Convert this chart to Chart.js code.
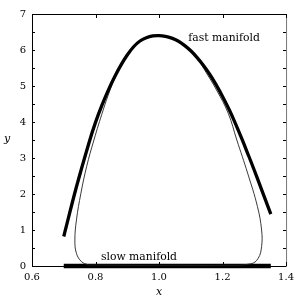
<!DOCTYPE html>
<html>
<head>
<meta charset="utf-8">
<script src="https://cdn.jsdelivr.net/npm/chart.js@4.4.1/dist/chart.umd.min.js"></script>
<style>
  html, body { margin: 0; padding: 0; background: #fff; }
</style>
</head>
<body>
<canvas id="grafica" width="299" height="300"></canvas>
<script>
// fast manifold (thick curve)
const fastX = [0.700, 0.740, 0.780, 0.800, 0.820, 0.840, 0.860, 0.880, 0.900, 0.920, 0.940, 0.960, 0.980, 1.000,
               1.020, 1.040, 1.060, 1.080, 1.100, 1.120, 1.140, 1.160, 1.180, 1.200, 1.220, 1.240, 1.260, 1.280, 1.300, 1.320, 1.352];
const fastY = [0.82, 2.20, 3.44, 3.99, 4.46, 4.88, 5.25, 5.58, 5.86, 6.09, 6.25, 6.34, 6.39, 6.40,
               6.38, 6.33, 6.25, 6.13, 5.98, 5.79, 5.57, 5.32, 5.03, 4.71, 4.36, 3.97, 3.55, 3.11, 2.66, 2.19, 1.44];

// orbit (thin closed curve)
const orbitX = [0.777, 0.900, 1.050, 1.200, 1.289, 1.312, 1.323, 1.323, 1.310, 1.279, 1.245, 1.218, 1.181, 1.148, 1.119, 1.079, 1.040, 1.000,
                0.961, 0.941, 0.921, 0.901, 0.881, 0.862, 0.845, 0.824, 0.795, 0.772, 0.754, 0.740, 0.735, 0.740, 0.756, 0.777];
const orbitY = [0.03, 0.02, 0.02, 0.02, 0.06, 0.21, 0.54, 1.00, 1.65, 2.58, 3.50, 4.24, 4.89, 5.38, 5.78, 6.12, 6.32, 6.38,
                6.33, 6.24, 6.08, 5.85, 5.57, 5.24, 4.87, 4.33, 3.50, 2.76, 2.02, 1.28, 0.72, 0.35, 0.12, 0.03];

// slow manifold (thick line on y = 0)
const slowX = [0.700, 1.352];
const slowY = [0, 0];

const xTicks = [0.6, 0.8, 1.0, 1.2, 1.4];
const yTicks = [0, 1, 2, 3, 4, 5, 6, 7];
const yMinor = [0, 0.5, 1, 1.5, 2, 2.5, 3, 3.5, 4, 4.5, 5, 5.5, 6, 6.5, 7];

const etiquetas = [
  { texto: 'fast manifold', x: 1.092, y: 6.25 },
  { texto: 'slow manifold', x: 0.817, y: 0.17 }
];

const pares = (xs, ys) => xs.map((v, i) => ({ x: v, y: ys[i] }));
const serif = "'DejaVu Serif', 'Liberation Serif', serif";

// marco, ticks hacia adentro, titulos y etiquetas
const marcas = {
  id: 'marcas',
  beforeDatasetsDraw(chart) {
    const { ctx, chartArea: a, scales: { x, y } } = chart;
    ctx.save();
    ctx.lineWidth = 1;
    ctx.strokeStyle = '#000';
    ctx.beginPath();
    ctx.moveTo(a.left + 0.5, a.top + 0.5);
    ctx.lineTo(a.left + 0.5, a.bottom + 0.5);
    ctx.lineTo(a.right, a.bottom + 0.5);
    ctx.moveTo(a.left, a.top + 0.5);
    ctx.lineTo(a.right, a.top + 0.5);
    ctx.stroke();
    ctx.strokeStyle = '#777';
    ctx.beginPath();
    ctx.moveTo(a.right + 0.5, a.top);
    ctx.lineTo(a.right + 0.5, a.bottom + 1);
    ctx.stroke();
    ctx.strokeStyle = '#000';
    ctx.beginPath();
    xTicks.forEach(v => {
      const px = Math.round(x.getPixelForValue(v)) + 0.5;
      ctx.moveTo(px, a.bottom); ctx.lineTo(px, a.bottom - 4);
      ctx.moveTo(px, a.top); ctx.lineTo(px, a.top + 4);
    });
    yMinor.forEach(v => {
      const py = Math.round(y.getPixelForValue(v)) + 0.5;
      ctx.moveTo(a.left, py); ctx.lineTo(a.left + 3, py);
      ctx.moveTo(a.right, py); ctx.lineTo(a.right - 3, py);
    });
    ctx.stroke();

    ctx.fillStyle = '#000';
    ctx.font = 'italic 11px ' + serif;
    ctx.textAlign = 'center';
    ctx.textBaseline = 'middle';
    ctx.fillText('x', (a.left + a.right) / 2, 292);
    ctx.fillText('y', 7, 139);

    ctx.font = '10.8px ' + serif;
    ctx.textAlign = 'left';
    ctx.textBaseline = 'alphabetic';
    etiquetas.forEach(e => {
      ctx.fillText(e.texto, x.getPixelForValue(e.x), y.getPixelForValue(e.y));
    });
    ctx.restore();
  }
};

const config = {
  type: 'scatter',
  data: {
    datasets: [{
      label: 'fast manifold',
      data: pares(fastX, fastY),
      showLine: true,
      borderColor: '#000',
      borderWidth: 3.3,
      pointRadius: 0,
      tension: 0.4,
      borderCapStyle: 'butt'
    }, {
      label: 'orbit',
      data: pares(orbitX, orbitY),
      showLine: true,
      borderColor: '#222',
      borderWidth: 0.9,
      pointRadius: 0,
      tension: 0.4
    }, {
      label: 'slow manifold',
      data: pares(slowX, slowY),
      showLine: true,
      borderColor: '#000',
      borderWidth: 4.3,
      pointRadius: 0,
      borderCapStyle: 'butt',
      clip: false
    }]
  },
  options: {
    responsive: false,
    animation: false,
    layout: { padding: { left: 0, right: 12, top: 14, bottom: 0 } },
    plugins: { legend: { display: false }, tooltip: { enabled: false } },
    scales: {
      x: {
        type: 'linear', min: 0.6, max: 1.4,
        afterBuildTicks: s => { s.ticks = xTicks.map(v => ({ value: v })); },
        afterFit: s => { s.height = 34; },
        grid: { display: false, drawTicks: false },
        border: { display: false },
        ticks: { color: '#000', font: { family: serif, size: 10 }, padding: 5,
                 callback: v => v.toFixed(1), maxRotation: 0 }
      },
      y: {
        type: 'linear', min: 0, max: 7,
        afterBuildTicks: s => { s.ticks = yTicks.map(v => ({ value: v })); },
        afterFit: s => { s.width = 32; },
        grid: { display: false, drawTicks: false },
        border: { display: false },
        ticks: { color: '#000', font: { family: serif, size: 10 }, padding: 6 }
      }
    }
  },
  plugins: [marcas]
};

new Chart(document.getElementById('grafica').getContext('2d'), config);
</script>
</body>
</html>
